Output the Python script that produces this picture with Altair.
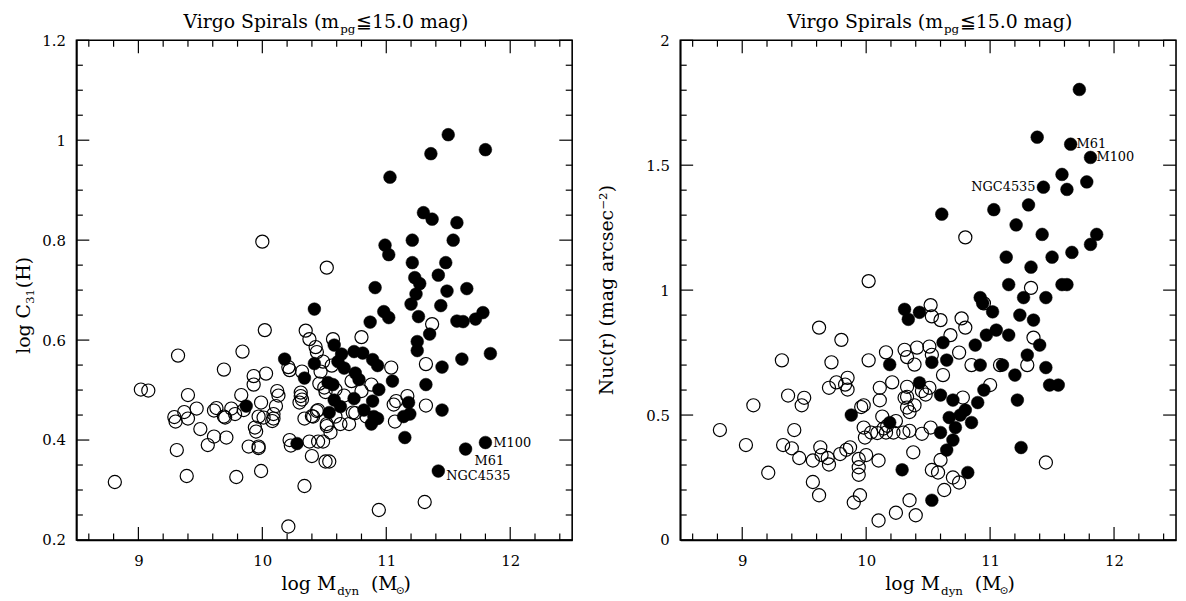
import altair as alt
import pandas as pd

FONT = "DejaVu Serif"

# ---------------- data ----------------
# Left panel: log C31(H) vs log Mdyn
left_open_x = [8.81, 9.02, 9.08, 9.32, 9.29, 9.30, 9.31, 9.37, 9.40, 9.40, 9.39, 9.47, 9.50, 9.56,
               9.61, 9.61, 9.63, 9.69, 9.70, 9.69, 9.71, 9.75, 9.78, 9.79, 9.84, 9.83, 9.85, 9.89,
               9.93, 9.93, 9.94, 9.95, 9.97, 9.97, 9.97, 9.99, 9.99, 10.03, 10.02, 10.00, 10.01,
               10.08, 10.09, 10.09, 10.11, 10.12, 10.13, 10.22, 10.23, 10.21, 10.21, 10.22,
               10.31, 10.31, 10.32, 10.30, 10.32, 10.34, 10.34, 10.38, 10.35, 10.38, 10.40, 10.41,
               10.43, 10.44, 10.45, 10.49, 10.45, 10.46, 10.47, 10.49, 10.51, 10.54, 10.52, 10.52,
               10.55, 10.51, 10.59, 10.57, 10.63, 10.70, 10.66, 10.72, 10.73, 10.52, 10.56, 10.80,
               11.04, 10.80, 10.88, 10.50, 10.59, 10.75, 10.84, 11.06, 11.08, 11.17, 11.07, 11.37,
               11.32, 11.32, 11.31, 10.94, 10.40, 10.44]
left_open_y = [0.316, 0.501, 0.499, 0.569, 0.446, 0.437, 0.380, 0.456, 0.490, 0.443, 0.328, 0.463, 0.422, 0.390,
               0.407, 0.459, 0.464, 0.447, 0.445, 0.541, 0.405, 0.463, 0.452, 0.326, 0.577, 0.490, 0.460, 0.387,
               0.528, 0.511, 0.425, 0.417, 0.447, 0.387, 0.384, 0.475, 0.338, 0.533, 0.620, 0.797, 0.445,
               0.438, 0.443, 0.452, 0.468, 0.498, 0.489, 0.400, 0.389, 0.227, 0.546, 0.540,
               0.495, 0.488, 0.481, 0.475, 0.537, 0.308, 0.443, 0.602, 0.619, 0.397, 0.368, 0.447,
               0.586, 0.576, 0.397, 0.397, 0.460, 0.513, 0.537, 0.557, 0.357, 0.357, 0.432, 0.428,
               0.415, 0.496, 0.501, 0.602, 0.432, 0.432, 0.489, 0.518, 0.455, 0.745, 0.549, 0.606,
               0.545, 0.498, 0.511, 0.505, 0.447, 0.454, 0.447, 0.471, 0.478, 0.488, 0.437, 0.632,
               0.552, 0.469, 0.276, 0.260, 0.448, 0.458]
left_fill_x = [9.87, 10.18, 10.28, 10.34, 10.42, 10.42, 10.53, 10.57, 10.54, 10.58, 10.63, 10.58,
               10.64, 10.61, 10.66, 10.74, 10.75, 10.74, 10.81, 10.89, 10.93, 10.78, 11.05, 10.94,
               10.89, 10.82, 10.90, 10.93, 10.88, 11.18, 11.19, 11.14, 11.15, 10.91, 10.87, 10.98,
               11.02, 11.27, 11.24, 11.20, 11.49, 11.65, 11.44, 11.26, 11.78, 11.72, 11.57, 11.62,
               11.35, 11.25, 11.25, 11.84, 11.61, 11.45, 11.32, 11.45, 11.80, 11.64, 11.42,
               11.50, 11.36, 11.80, 11.03, 11.30, 11.37, 11.57, 10.99, 11.02, 11.21, 11.54,
               11.48, 11.21, 11.23, 11.42]
left_fill_y = [0.468, 0.562, 0.393, 0.524, 0.662, 0.553, 0.515, 0.511, 0.455, 0.480, 0.467, 0.590,
               0.572, 0.557, 0.544, 0.577, 0.534, 0.483, 0.574, 0.561, 0.549, 0.521, 0.518, 0.501,
               0.478, 0.460, 0.447, 0.443, 0.432, 0.475, 0.452, 0.447, 0.405, 0.705, 0.636, 0.657,
               0.645, 0.713, 0.692, 0.672, 0.698, 0.703, 0.669, 0.647, 0.655, 0.642, 0.638, 0.637,
               0.612, 0.597, 0.579, 0.573, 0.562, 0.546, 0.511, 0.460, 0.395, 0.382, 0.338,
               1.011, 0.973, 0.981, 0.926, 0.855, 0.842, 0.835, 0.790, 0.771, 0.800, 0.800,
               0.755, 0.755, 0.725, 0.730]

# Right panel: Nuc(r) vs log Mdyn
right_open_x = [8.82, 9.03, 9.09, 9.21, 9.32, 9.37, 9.33, 9.40, 9.42, 9.46, 9.48, 9.50, 9.57, 9.57,
                9.62, 9.62, 9.63, 9.64, 9.69, 9.70, 9.70, 9.76, 9.72, 9.80, 9.79, 9.83, 9.85, 9.85,
                9.84, 9.87, 9.90, 9.94, 9.94, 9.94, 9.95, 9.96, 9.98, 9.98, 9.99, 10.00, 10.02, 10.02,
                10.04, 10.09, 10.10, 10.10, 10.11, 10.11, 10.13, 10.14, 10.16, 10.17, 10.16, 10.21,
                10.22, 10.24, 10.24, 10.31, 10.33, 10.39, 10.41, 10.30, 10.35, 10.31, 10.33, 10.33,
                10.35, 10.39, 10.33, 10.38, 10.35, 10.40, 10.52, 10.53, 10.45, 10.48, 10.51, 10.45,
                10.51, 10.53, 10.52, 10.53, 10.77, 10.80, 11.33, 10.95,
                10.60, 10.62, 10.68, 10.75, 10.80, 10.78, 10.70, 10.75, 10.60, 10.63, 10.58, 10.85,
                11.00, 11.08, 11.30, 11.35, 11.45]
right_open_y = [0.44, 0.38, 0.539, 0.269, 0.719, 0.578, 0.38, 0.367, 0.44, 0.328, 0.539, 0.569, 0.318, 0.232,
                0.179, 0.85, 0.371, 0.34, 0.328, 0.302, 0.609, 0.631, 0.711, 0.801, 0.344, 0.622, 0.602, 0.649,
                0.361, 0.371, 0.15, 0.324, 0.291, 0.261, 0.179, 0.532, 0.539, 0.45, 0.41, 0.34, 0.719, 1.036,
                0.43, 0.428, 0.318, 0.078, 0.609, 0.559, 0.494, 0.446, 0.43, 0.457, 0.751, 0.631,
                0.43, 0.476, 0.109, 0.761, 0.732, 0.702, 0.77, 0.43, 0.437, 0.569, 0.573, 0.53,
                0.512, 0.539, 0.613, 0.351, 0.159, 0.099, 0.94, 0.895, 0.596, 0.582, 0.609, 0.425,
                0.774, 0.741, 0.45, 0.28, 0.887, 1.211, 1.009, 0.947,
                0.88, 0.66, 0.82, 0.75, 0.85, 0.57, 0.25, 0.23, 0.32, 0.20, 0.27, 0.70,
                0.62, 0.70, 0.70, 0.81, 0.31]
right_fill_x = [9.88, 10.19, 10.19, 10.29, 10.31, 10.34, 10.43, 10.43, 10.53, 10.53, 11.72, 11.38,
                11.65, 11.81, 11.58, 11.43, 11.62, 11.78, 11.03, 11.31, 10.61, 11.21, 11.42, 11.86,
                11.81, 11.66, 11.13, 11.50, 11.33, 11.15, 11.58, 11.62, 11.27, 11.45, 10.92, 10.94,
                11.02, 11.24,
                10.62, 10.65, 10.60, 10.70, 10.67, 10.72, 10.76, 10.80, 10.85, 10.90, 10.95, 10.92,
                10.88, 10.97, 11.05, 11.10, 11.15, 11.20, 11.22, 11.25, 11.30, 11.35, 11.40, 11.45,
                11.48, 11.55, 10.60, 10.82, 10.65, 10.70]
right_fill_y = [0.50, 0.702, 0.47, 0.281, 0.923, 0.883, 0.911, 0.629, 0.159, 0.711, 1.803, 1.612,
                1.584, 1.531, 1.463, 1.412, 1.403, 1.433, 1.322, 1.341, 1.304, 1.261, 1.223, 1.223,
                1.183, 1.151, 1.132, 1.132, 1.092, 1.022, 1.022, 1.022, 0.970, 0.970, 0.970, 0.947,
                0.913, 0.900,
                0.79, 0.72, 0.58, 0.56, 0.49, 0.45, 0.50, 0.52, 0.47, 0.55, 0.60, 0.70,
                0.78, 0.82, 0.84, 0.70, 0.82, 0.66, 0.56, 0.37, 0.74, 0.88, 0.78, 0.69,
                0.62, 0.62, 0.43, 0.27, 0.36, 0.40]

# named galaxies
left_names = ["M100", "M61", "NGC4535"]
left_names_x = [11.80, 11.64, 11.42]
left_names_y = [0.395, 0.382, 0.338]
right_names = ["M61", "M100", "NGC4535"]
right_names_x = [11.65, 11.81, 11.43]
right_names_y = [1.584, 1.531, 1.412]

# axis ticks
x_major = [9.0, 10.0, 11.0, 12.0]
x_minor = [8.6, 8.8, 9.2, 9.4, 9.6, 9.8, 10.2, 10.4, 10.6, 10.8, 11.2, 11.4, 11.6, 11.8,
           12.2, 12.4]
left_y_major = [0.2, 0.4, 0.6, 0.8, 1.0, 1.2]
left_y_minor = [0.25, 0.3, 0.35, 0.45, 0.5, 0.55, 0.65, 0.7, 0.75, 0.85, 0.9, 0.95, 1.05, 1.1, 1.15]
right_y_major = [0.0, 0.5, 1.0, 1.5, 2.0]
right_y_minor = [0.1, 0.2, 0.3, 0.4, 0.6, 0.7, 0.8, 0.9, 1.1, 1.2, 1.3, 1.4, 1.6, 1.7, 1.8, 1.9]

W, H = 500, 504
X_DOMAIN = [8.5, 12.5]
MAJ, MIN = 13, 6.5
PT = 175


def label_axis(values, orient, pad):
    return alt.Axis(
        values=values, orient=orient, title=None, grid=False,
        domain=True, domainColor="black", domainWidth=1.6, ticks=False,
        labelExpr="format(datum.value, '~g')",
        labelFont=FONT, labelFontSize=15, labelColor="black",
        labelPadding=pad, labelFlush=False, labelOverlap=False,
    )


dummy = pd.DataFrame({"a": [0]})


def txt(text, x, y, size, angle=0, align="center", baseline="alphabetic"):
    kw = dict(text=text, font=FONT, fontSize=size, align=align, baseline=baseline, color="black")
    if angle:
        kw["angle"] = angle
    return alt.Chart(dummy).mark_text(**kw).encode(x=alt.value(x), y=alt.value(y))


def tick_layers(values, scale, horizontal, length):
    d = pd.DataFrame({"v": values})
    base = alt.Chart(d).mark_rule(color="black", strokeWidth=1.2)
    if horizontal:  # ticks along x axes (bottom/top)
        enc = alt.X("v:Q", scale=scale, axis=None)
        return [
            base.encode(x=enc, y=alt.value(H), y2=alt.value(H - length)),
            base.encode(x=enc, y=alt.value(0), y2=alt.value(length)),
        ]
    enc = alt.Y("v:Q", scale=scale, axis=None)
    return [
        base.encode(y=enc, x=alt.value(0), x2=alt.value(length)),
        base.encode(y=enc, x=alt.value(W), x2=alt.value(W - length)),
    ]


def panel(ox, oy, fx, fy, names, nx, ny, name_offsets, y_domain, y_major, y_minor, ytitle_layers):
    xs = alt.Scale(domain=X_DOMAIN, nice=False, zero=False)
    ys = alt.Scale(domain=y_domain, nice=False, zero=False)
    d_open = pd.DataFrame({"x": ox, "y": oy})
    d_fill = pd.DataFrame({"x": fx, "y": fy})
    open_layer = alt.Chart(d_open).mark_point(
        shape="circle", filled=False, stroke="black", strokeWidth=1.2, size=PT, opacity=1
    ).encode(
        x=alt.X("x:Q", scale=xs, axis=label_axis(x_major, "bottom", 14)),
        y=alt.Y("y:Q", scale=ys, axis=label_axis(y_major, "left", 11)),
    )
    fill_layer = alt.Chart(d_fill).mark_point(
        shape="circle", filled=True, fill="black", stroke="black", strokeWidth=0.5, size=PT - 10, opacity=1
    ).encode(
        x=alt.X("x:Q", scale=xs, axis=None),
        y=alt.Y("y:Q", scale=ys, axis=None),
    )
    layers = [open_layer, fill_layer]
    layers += tick_layers(x_major, xs, True, MAJ) + tick_layers(x_minor, xs, True, MIN)
    layers += tick_layers(y_major, ys, False, MAJ) + tick_layers(y_minor, ys, False, MIN)
    for name, x, y, (dx, dy, align) in zip(names, nx, ny, name_offsets):
        d = pd.DataFrame({"x": [x], "y": [y], "t": [name]})
        layers.append(
            alt.Chart(d).mark_text(font=FONT, fontSize=13, dx=dx, dy=dy, align=align,
                                   baseline="middle", color="black").encode(
                x=alt.X("x:Q", scale=xs, axis=None),
                y=alt.Y("y:Q", scale=ys, axis=None),
                text="t:N",
            )
        )
    # panel title with subscript
    layers += [
        txt("Virgo Spirals (m", 265, -12, 19, align="right"),
        txt("pg", 266, -7, 12, align="left"),
        txt("≦15.0 mag)", 282, -12, 19, align="left"),
        # x title
        txt("log  M", 262, 554, 19, align="right"),
        txt("dyn", 263, 559, 12, align="left"),
        txt("(M", 297, 554, 19, align="left"),
        txt("⊙", 322, 558, 11, align="left"),
        txt(")", 330, 554, 19, align="left"),
    ]
    layers += ytitle_layers
    return (alt.layer(*layers)
            .resolve_axis(x="independent", y="independent")
            .properties(width=W, height=H))


left_ytitle = [
    txt("log  C", -47, 266, 19, angle=270, align="right"),
    txt("31", -43, 266, 12, angle=270, align="left"),
    txt("(H)", -47, 250, 19, angle=270, align="left"),
]
right_ytitle = [
    txt("Nuc(r)  (mag  arcsec⁻²)", -68, 252, 19, angle=270, align="center"),
]

left = panel(left_open_x, left_open_y, left_fill_x, left_fill_y,
             left_names, left_names_x, left_names_y,
             [(8, 0, "left"), (9, 12, "left"), (8, 5, "left")],
             [0.2, 1.2], left_y_major, left_y_minor, left_ytitle)
right = panel(right_open_x, right_open_y, right_fill_x, right_fill_y,
              right_names, right_names_x, right_names_y,
              [(6, 0, "left"), (6, 0, "left"), (-8, 0, "right")],
              [0.0, 2.0], right_y_major, right_y_minor, right_ytitle)

chart = alt.hconcat(left, right, spacing=109, bounds="flush").properties(
    padding={"left": 6, "top": 2, "right": 0, "bottom": 0},
    background="white",
).configure_view(stroke="black", strokeWidth=1.6)

chart.save("out.html", embed_options={"renderer": "svg", "actions": False})
